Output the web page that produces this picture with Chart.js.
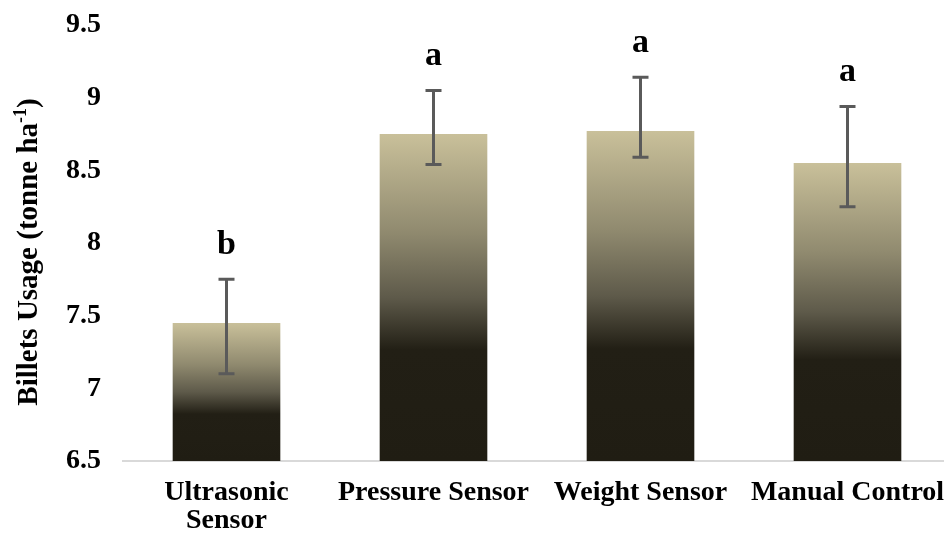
<!DOCTYPE html>
<html>
<head>
<meta charset="utf-8">
<script src="https://cdn.jsdelivr.net/npm/chart.js@4.4.1/dist/chart.umd.min.js"></script>
<style>
  html, body { margin: 0; padding: 0; background: #fff; overflow: hidden; }
  /* the plot runs slightly past the right edge in the original */
  #wrap { width: 951px; height: 536px; }
</style>
</head>
<body>
<div id="wrap"><canvas id="billetsChart"></canvas></div>
<script>
// Data
const categories = [['Ultrasonic', 'Sensor'], 'Pressure Sensor', 'Weight Sensor', 'Manual Control'];
const usage = [7.45, 8.75, 8.77, 8.55];
const errLow = [7.10, 8.54, 8.59, 8.25];
const errHigh = [7.75, 9.05, 9.14, 8.94];
const groups = ['b', 'a', 'a', 'a'];
const yTicks = [6.5, 7, 7.5, 8, 8.5, 9, 9.5];

const FONT = '"Liberation Serif", "Times New Roman", serif';

// vertical gradient per bar: beige top fading to dark
function barGradient(ctx) {
  const chart = ctx.chart;
  if (!chart.chartArea) return '#8a846a';
  const y = chart.scales.y;
  const top = y.getPixelForValue(ctx.raw);
  const bottom = y.getPixelForValue(y.min);
  const g = chart.ctx.createLinearGradient(0, top, 0, bottom);
  g.addColorStop(0, '#c9c09a');
  g.addColorStop(0.3, '#908a6f');
  g.addColorStop(0.5, '#5e5a4a');
  g.addColorStop(0.66, '#221f15');
  g.addColorStop(1, '#201d13');
  return g;
}

// error bars and significance letters
const errorBars = {
  id: 'errorBars',
  afterDatasetsDraw(chart) {
    const c = chart.ctx;
    const meta = chart.getDatasetMeta(0);
    const y = chart.scales.y;
    c.save();
    c.strokeStyle = '#5a5a5a';
    c.lineWidth = 3;
    meta.data.forEach((bar, i) => {
      const x = bar.x;
      const yl = y.getPixelForValue(errLow[i]);
      const yh = y.getPixelForValue(errHigh[i]);
      c.beginPath();
      c.moveTo(x, yl); c.lineTo(x, yh);
      c.moveTo(x - 8, yl); c.lineTo(x + 8, yl);
      c.moveTo(x - 8, yh); c.lineTo(x + 8, yh);
      c.stroke();
      c.fillStyle = '#000';
      c.font = 'bold 34px ' + FONT;
      c.textAlign = 'center';
      c.textBaseline = 'alphabetic';
      c.fillText(groups[i], x, yh - 25);
    });
    c.restore();
  }
};

// y axis title with superscript
const yTitle = {
  id: 'yTitle',
  afterDraw(chart) {
    const c = chart.ctx;
    const main = 'Billets Usage (tonne ha';
    const sup = '-1';
    const end = ')';
    c.save();
    c.fillStyle = '#000';
    c.font = 'bold 29px ' + FONT;
    const w1 = c.measureText(main).width;
    const w3 = c.measureText(end).width;
    c.font = 'bold 18px ' + FONT;
    const w2 = c.measureText(sup).width;
    const total = w1 + w2 + w3;
    c.translate(37, 252);
    c.rotate(-Math.PI / 2);
    c.textBaseline = 'alphabetic';
    c.textAlign = 'left';
    let x = -total / 2;
    c.font = 'bold 29px ' + FONT;
    c.fillText(main, x, 0);
    x += w1;
    c.font = 'bold 18px ' + FONT;
    c.fillText(sup, x, -11);
    x += w2;
    c.font = 'bold 29px ' + FONT;
    c.fillText(end, x, 0);
    c.restore();
  }
};

new Chart(document.getElementById('billetsChart'), {
  type: 'bar',
  data: {
    labels: categories,
    datasets: [{
      data: usage,
      backgroundColor: barGradient,
      borderWidth: 0,
      barPercentage: 0.52,
      categoryPercentage: 1
    }]
  },
  options: {
    responsive: true,
    maintainAspectRatio: false,
    animation: false,
    layout: { padding: { left: 44, top: 0, right: 0, bottom: -17 } },
    plugins: {
      legend: { display: false },
      tooltip: { enabled: false }
    },
    scales: {
      x: {
        grid: { display: false, drawTicks: false },
        border: { display: true, color: '#d9d9d9', width: 2 },
        ticks: {
          color: '#000',
          font: { family: FONT, size: 28, weight: 'bold', lineHeight: 1.0 },
          maxRotation: 0,
          autoSkip: false,
          padding: 18
        },
        afterFit(scale) {
          scale.paddingLeft = 0;
          scale.paddingRight = 0;
        }
      },
      y: {
        min: 6.5,
        max: 9.5,
        afterBuildTicks(scale) {
          scale.ticks = yTicks.map(v => ({ value: v }));
        },
        afterFit(scale) {
          scale.paddingTop = 25;
          scale.paddingBottom = 0;
        },
        grid: { display: false, drawTicks: false },
        border: { display: false },
        ticks: {
          color: '#000',
          font: { family: FONT, size: 28, weight: 'bold' },
          padding: 22,
          callback: v => String(v)
        }
      }
    }
  },
  plugins: [errorBars, yTitle]
});
</script>
</body>
</html>
